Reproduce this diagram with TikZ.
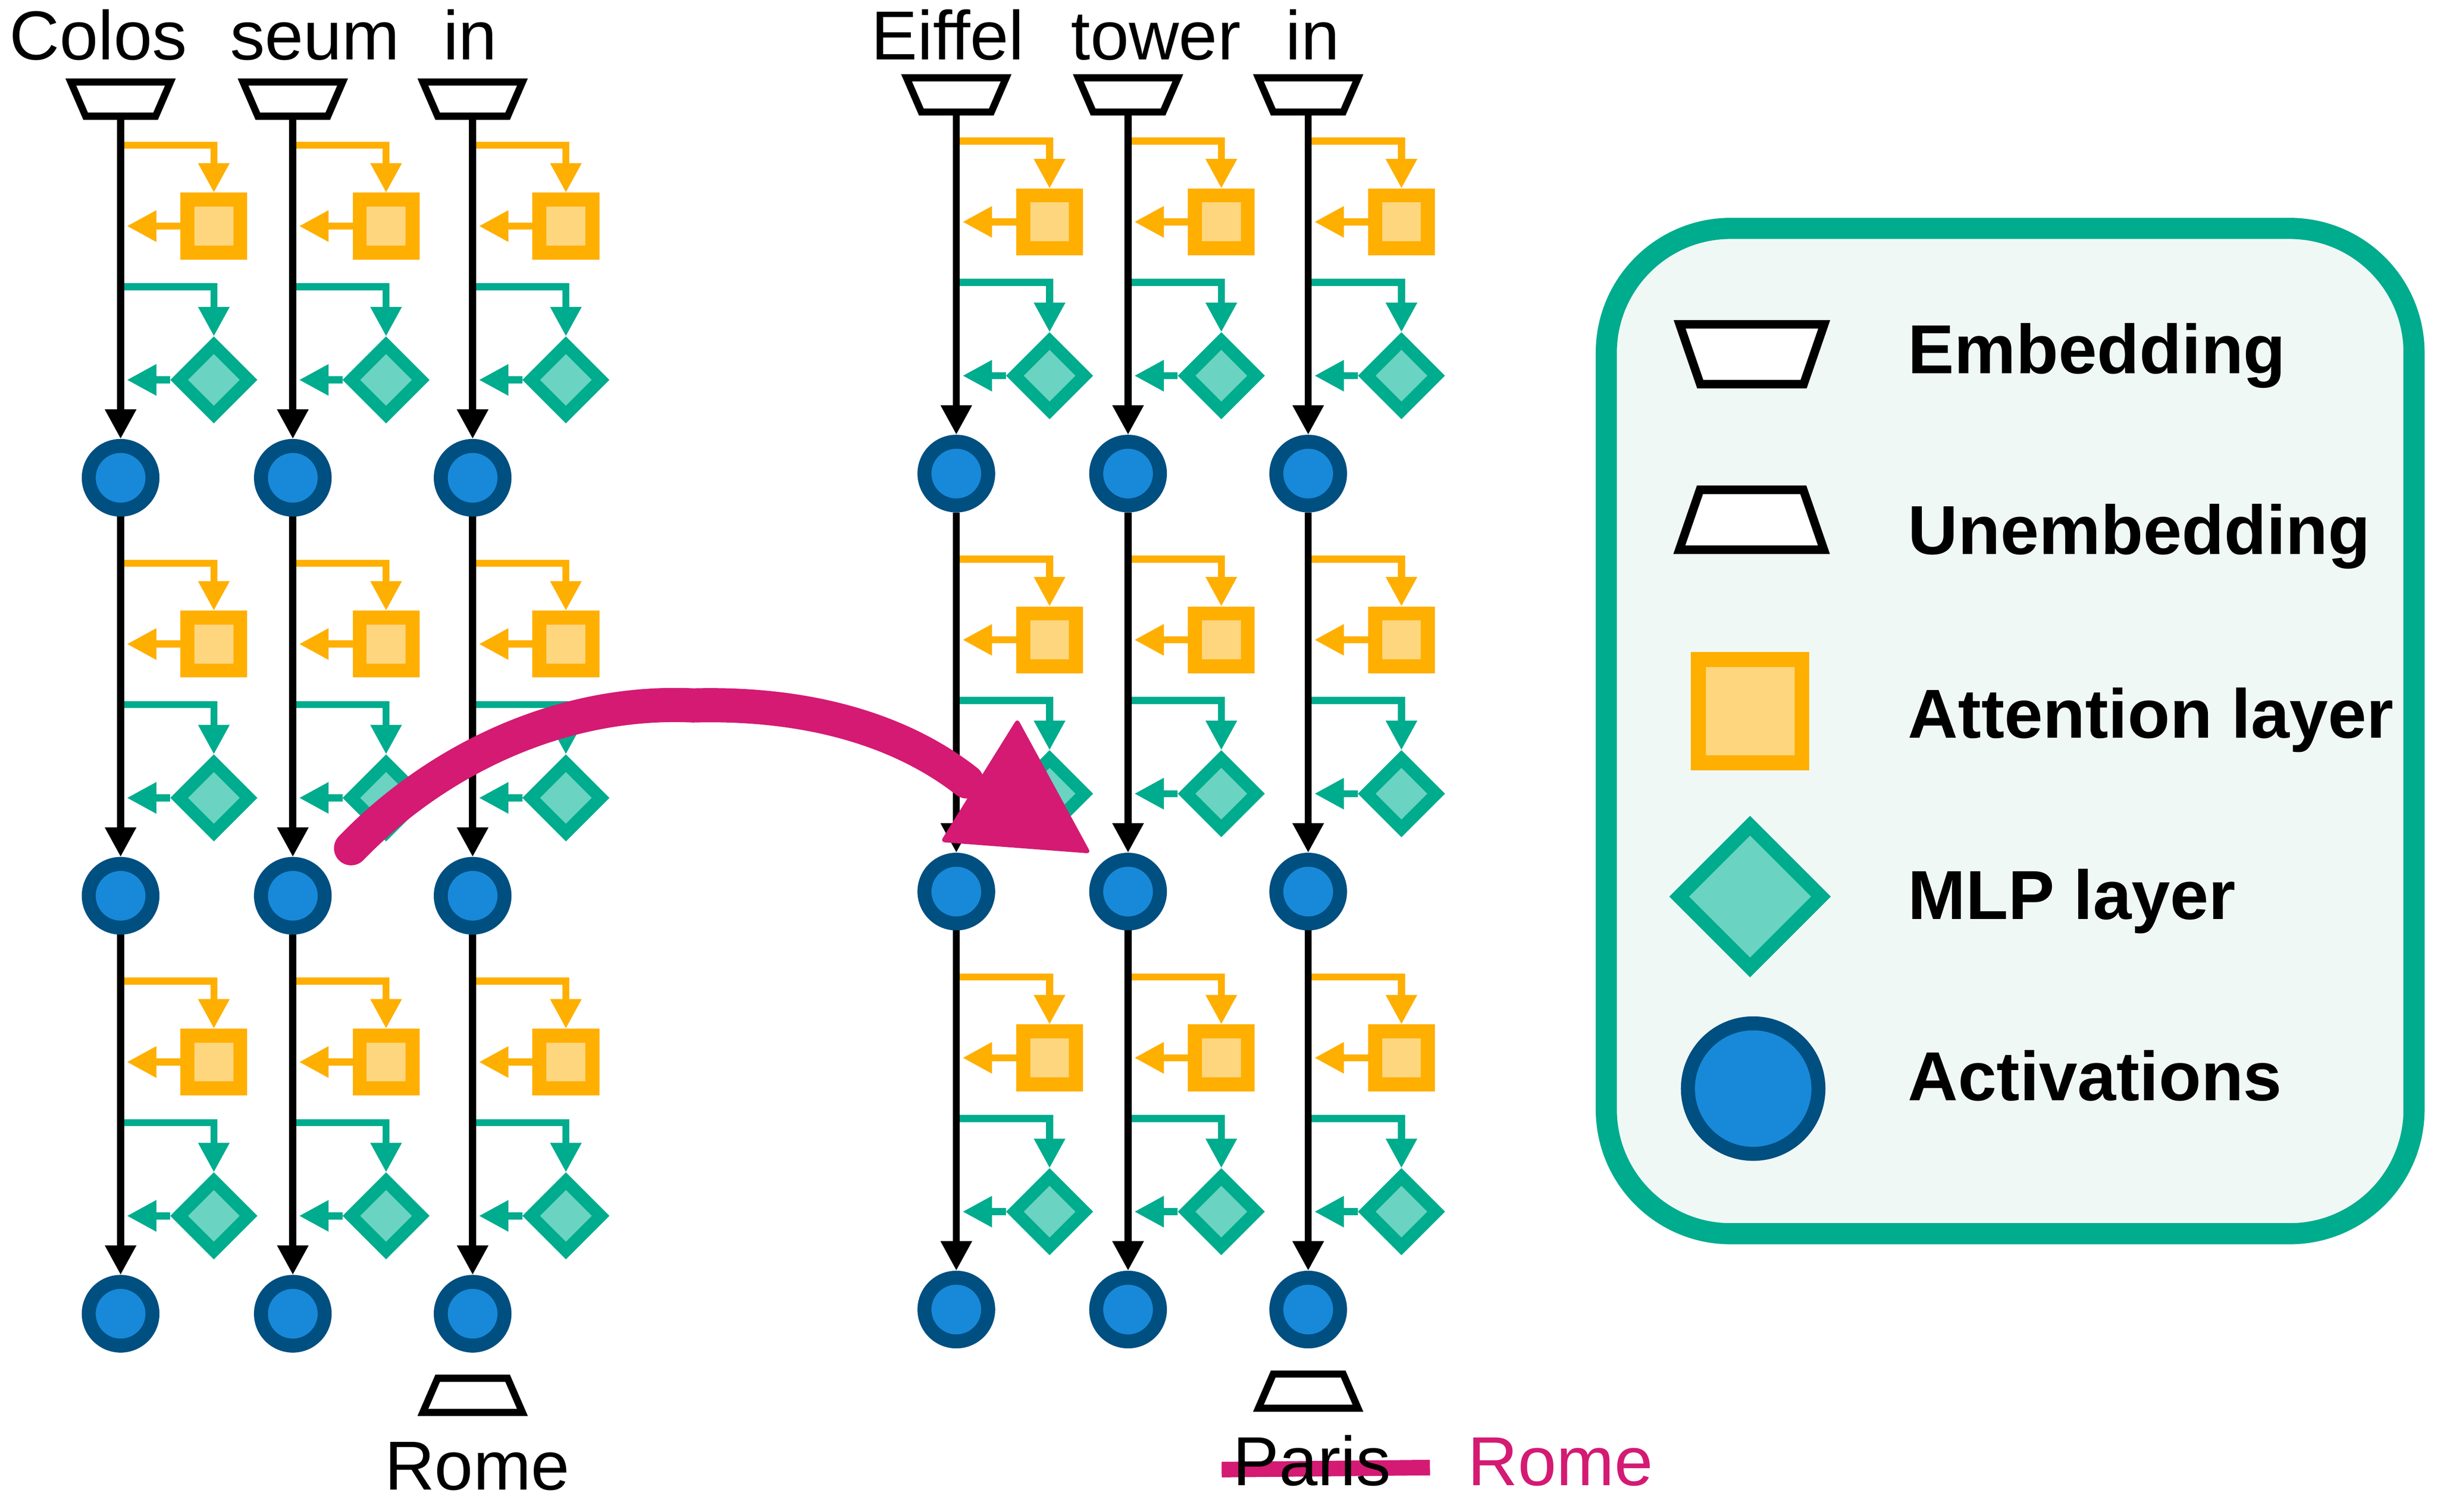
\documentclass[tikz,border=0pt]{standalone}
\usepackage{fontspec}
\setmainfont{Liberation Sans}
\usetikzlibrary{arrows.meta,shapes.geometric}

\definecolor{attnorange}{HTML}{FFAF00}
\definecolor{attnfill}{HTML}{FED67E}
\definecolor{mlpteal}{HTML}{00AC8E}
\definecolor{mlpfill}{HTML}{6AD3C1}
\definecolor{actblue}{HTML}{1889D8}
\definecolor{actdark}{HTML}{004F81}
\definecolor{patchpink}{HTML}{D41A73}
\definecolor{legendbg}{HTML}{F0F8F6}

\tikzset{
        word/.style={inner sep=0pt, font=\fontsize{12.7pt}{15pt}\selectfont},
        keytext/.style={anchor=base west, inner sep=0pt, font=\fontsize{12.7pt}{15pt}\selectfont\bfseries},
        unembed/.style={trapezium, draw=black, fill=white, line width=1.3pt, trapezium angle=66.6,
                inner xsep=0.225cm, inner ysep=0.11cm},
        embed/.style={unembed, shape border rotate=180},
        attnbox/.style={rectangle, draw=attnorange, fill=attnfill, line width=0.09cm, minimum size=0.34cm, inner sep=0pt},
        mlpbox/.style={diamond, aspect=1, draw=mlpteal, fill=mlpfill, line width=0.08cm, minimum size=0.48cm, inner sep=0pt},
        actnode/.style={circle, draw=actdark, fill=actblue, line width=0.09cm, minimum size=0.41cm, inner sep=0pt},
        tip/.style={-{Triangle[length=0.19cm,width=0.19cm]}},
        resid/.style={tip, draw=black, line width=1.3pt},
        attnline/.style={tip, draw=attnorange, line width=1.3pt},
        mlpline/.style={tip, draw=mlpteal, line width=1.3pt},
        patch/.style={draw=patchpink, line width=0.22cm, line cap=round}
}

\begin{document}
\begin{tikzpicture}
        \useasboundingbox (0,0) rectangle (15.68,-9.73);

        \foreach \g/\c/\x/\dy in {l/1/0.776/0, l/2/1.884/0, l/3/3.041/0, r/1/6.153/0.027, r/2/7.258/0.027, r/3/8.417/0.027} {
                \node[embed] (emb-\g\c) at (\x,-0.638+\dy) {};
                \foreach \r in {1,2,3} {
                        \pgfmathsetmacro{\cy}{-3.075-2.69*(\r-1)+\dy}
                        \node[actnode] (act-\g\c-\r) at (\x,\cy) {};
                        \node[attnbox] (att-\g\c-\r) at (\x+0.6,\cy+1.62) {};
                        \node[mlpbox] (mlp-\g\c-\r) at (\x+0.6,\cy+0.63) {};
                        \coordinate (ain-\g\c-\r) at (\x,\cy+2.14);
                        \coordinate (min-\g\c-\r) at (\x,\cy+1.23);
                        \draw[attnline] (ain-\g\c-\r) -| (att-\g\c-\r.north);
                        \draw[attnline, shorten >=0.04cm] (att-\g\c-\r.west) -- (att-\g\c-\r.west -| ain-\g\c-\r);
                        \draw[mlpline] (min-\g\c-\r) -| (mlp-\g\c-\r.north);
                        \draw[mlpline, shorten >=0.04cm] (mlp-\g\c-\r.west) -- (mlp-\g\c-\r.west -| min-\g\c-\r);
                }
                \draw[resid] (emb-\g\c) -- (act-\g\c-1);
                \draw[resid] (act-\g\c-1) -- (act-\g\c-2);
                \draw[resid] (act-\g\c-2) -- (act-\g\c-3);
        }

        \node[word, anchor=base] (tok-l1) at (0.632,-0.384) {Colos};
        \node[word, anchor=base] (tok-l2) at (2.026,-0.384) {seum};
        \node[word, anchor=base] (tok-l3) at (3.025,-0.384) {in};
        \node[word, anchor=base] (tok-r1) at (6.098,-0.384) {Eiffel};
        \node[word, anchor=base] (tok-r2) at (7.437,-0.384) {tower};
        \node[word, anchor=base] (tok-r3) at (8.446,-0.384) {in};

        \node[unembed] (unemb-l) at (3.041,-8.98) {};
        \node[unembed] (unemb-r) at (8.417,-8.953) {};
        \node[word, anchor=base] (out-l) at (3.07,-9.588) {Rome};
        \draw[draw=patchpink, line width=0.1cm] (7.86,-9.458) -- (9.2,-9.445);
        \node[word, anchor=base] (out-r) at (8.44,-9.56) {Paris};
        \node[word, anchor=base, text=patchpink] (out-new) at (10.04,-9.56) {Rome};

        \draw[line width=0.136cm, draw=mlpteal, fill=legendbg, rounded corners=0.8cm] (10.335,-1.47) rectangle (15.532,-7.94);
        \node[embed, line width=0.055cm, inner xsep=0.3325cm, inner ysep=0.1925cm, trapezium angle=71] (key-emb) at (11.272,-2.28) {};
        \node[unembed, line width=0.055cm, inner xsep=0.3325cm, inner ysep=0.1925cm, trapezium angle=71] (key-unemb) at (11.27,-3.345) {};
        \node[attnbox, line width=0.095cm, minimum size=0.665cm] (key-att) at (11.26,-4.577) {};
        \node[mlpbox, line width=0.09cm, minimum size=0.95cm] (key-mlp) at (11.26,-5.77) {};
        \node[actnode, minimum size=0.84cm] (key-act) at (11.28,-7.006) {};
        \node[keytext] (lab-emb) at (12.27,-2.404) {Embedding};
        \node[keytext] (lab-unemb) at (12.27,-3.567) {Unembedding};
        \node[keytext] (lab-att) at (12.27,-4.75) {Attention layer};
        \node[keytext] (lab-mlp) at (12.27,-5.915) {MLP layer};
        \node[keytext] (lab-act) at (12.27,-7.084) {Activations};

        \coordinate (patch-from) at ([shift={(0.375,0.306)}]act-l2-2.center);
        \coordinate (patch-to) at ([shift={(-1.038,0.709)}]act-r2-2.center);
        \draw[patch] (patch-from) .. controls +(0.54,0.56) and +(-0.86,0.04) .. (4.46,-4.54) .. controls +(0.74,0.02) and +(-0.42,0.33) .. (patch-to);
        \fill[patchpink, rounded corners=0.03cm] ([shift={(-0.712,1.116)}]act-r2-2.center) -- ([shift={(-1.208,0.319)}]act-r2-2.center) -- ([shift={(-0.238,0.245)}]act-r2-2.center) -- cycle;
\end{tikzpicture}
\end{document}
